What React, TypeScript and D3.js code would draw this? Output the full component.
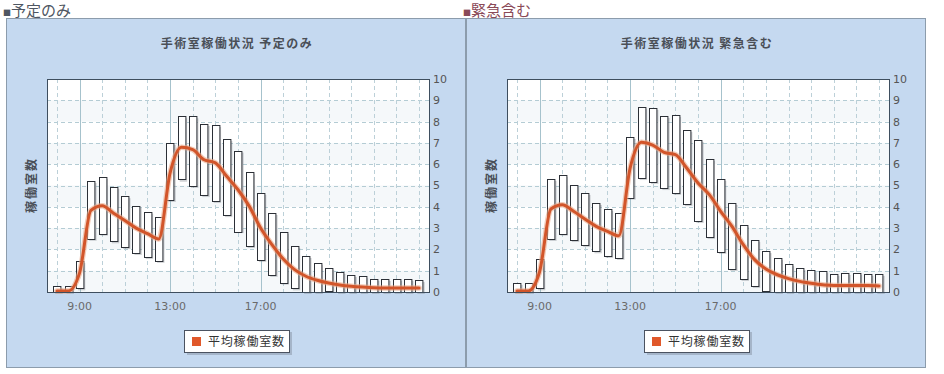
import React from "react";
import * as d3 from "d3";

// half-hour slots, 8:00 .. 24:00
const slots = [8, 8.5, 9, 9.5, 10, 10.5, 11, 11.5, 12, 12.5, 13, 13.5, 14, 14.5, 15, 15.5, 16, 16.5,
  17, 17.5, 18, 18.5, 19, 19.5, 20, 20.5, 21, 21.5, 22, 22.5, 23, 23.5, 24];

const planHigh = [0.27, 0.27, 1.46, 5.21, 5.4, 4.93, 4.5, 4.04, 3.76, 3.54, 7.0, 8.25, 8.25, 7.89, 7.84, 7.18, 6.64,
  5.62, 4.65, 3.71, 2.82, 2.16, 1.69, 1.36, 1.13, 0.94, 0.8, 0.74, 0.61, 0.61, 0.61, 0.61, 0.56];
const planLow = [0, 0, 0.17, 2.5, 2.74, 2.38, 2.11, 1.83, 1.64, 1.46, 4.32, 5.27, 4.98, 4.55, 4.27, 3.61, 2.86,
  2.16, 1.5, 0.8, 0.44, 0.17, 0, 0, 0.06, 0, 0, 0, 0, 0, 0, 0, 0];
const planAvg = [0.05, 0.05, 0.9, 3.83, 4.05, 3.7, 3.36, 3.0, 2.74, 2.49, 5.59, 6.79, 6.68, 6.21, 6.06, 5.43, 4.8,
  4.02, 3.0, 2.22, 1.55, 1.05, 0.74, 0.55, 0.42, 0.33, 0.27, 0.23, 0.2, 0.19, 0.19, 0.19, 0.19];

const emgHigh = [0.42, 0.42, 1.55, 5.31, 5.49, 5.02, 4.65, 4.18, 3.9, 3.71, 7.28, 8.69, 8.64, 8.26, 8.31, 7.6, 7.14,
  6.24, 5.31, 4.18, 3.15, 2.44, 1.92, 1.6, 1.31, 1.13, 1.03, 0.99, 0.85, 0.89, 0.89, 0.85, 0.85];
const emgLow = [0, 0, 0.17, 2.49, 2.74, 2.44, 2.21, 1.91, 1.69, 1.6, 4.43, 5.35, 5.16, 4.88, 4.65, 4.13, 3.33,
  2.58, 1.88, 1.08, 0.61, 0.28, 0.05, 0, 0, 0, 0, 0, 0, 0, 0, 0, 0];
const emgAvg = [0.05, 0.05, 0.95, 3.9, 4.1, 3.79, 3.43, 3.08, 2.85, 2.64, 5.82, 7.03, 6.9, 6.56, 6.45, 5.82, 5.12,
  4.57, 3.79, 3.08, 2.22, 1.52, 1.08, 0.81, 0.63, 0.5, 0.41, 0.34, 0.31, 0.3, 0.3, 0.3, 0.28];

const yTicks = [0, 1, 2, 3, 4, 5, 6, 7, 8, 9, 10];
const xTickHours = [9, 13, 17];
const xTickLabels = ["9:00", "13:00", "17:00"];
const gridHours = [8, 9, 10, 11, 12, 13, 14, 15, 16, 17, 18, 19, 20, 21, 22, 23, 24];

const JP = "'Noto Sans CJK JP', 'Noto Sans', sans-serif";
const NUM = "'DejaVu Sans', Verdana, sans-serif";

type PanelProps = {
  px: number; header: string; headerColor: string; title: string;
  high: number[]; low: number[]; avg: number[];
};

const Panel = ({ px, header, headerColor, title, high, low, avg }: PanelProps) => {
  const left = px + 41, right = px + 423, top = 79, bottom = 292;
  const x = d3.scaleLinear().domain([7.56, 24.44]).range([left, right]);
  const y = d3.scaleLinear().domain([0, 10]).range([bottom, top]);
  const bw = 7.4;
  const line = d3.line<number>()
    .x((d, i) => x(slots[i]))
    .y(d => y(d))
    .curve(d3.curveMonotoneX);
  const cx = px + 231;

  return (
    <g>
      <text x={px - 3} y={16} fontFamily={JP} fontSize={15} fill={headerColor}>
        <tspan fontSize={8}>■</tspan>{header}
      </text>
      <rect x={px + 0.5} y={18.5} width={459} height={349} fill="#c5d9f0" stroke="#8c9cac" />
      <text x={cx} y={48} textAnchor="middle" fontFamily={JP} fontSize={12} fontWeight="bold"
        fill="#4a4f57" letterSpacing={1.5}>{title}</text>

      {/* plot background + bands */}
      <rect x={left} y={top} width={right - left} height={bottom - top} fill="#ffffff" />
      {yTicks.slice(0, 10).filter(v => v % 2 === 0).map(v => (
        <rect key={"b" + v} x={left} y={y(v + 1)} width={right - left} height={y(v) - y(v + 1)} fill="#f5f8fa" />
      ))}
      {yTicks.slice(1, 10).map(v => (
        <line key={"h" + v} x1={left} x2={right} y1={Math.round(y(v)) + 0.5} y2={Math.round(y(v)) + 0.5}
          stroke="#b4ccd4" strokeDasharray="4,3" />
      ))}
      {gridHours.map(h => {
        const solid = xTickHours.includes(h);
        const xx = Math.round(x(h)) + 0.5;
        return <line key={"v" + h} x1={xx} x2={xx} y1={top} y2={bottom}
          stroke={solid ? "#a6c2cc" : "#bcd0d8"} strokeDasharray={solid ? undefined : "4,3"} />;
      })}

      {/* floating bars */}
      {slots.map((s, i) => (
        <g key={"bar" + i}>
          <rect x={x(s) - bw / 2 + 2} y={y(high[i]) + 2} width={bw} height={Math.max(y(low[i]) - y(high[i]), 2)}
            fill="#7a8088" opacity={0.35} />
          <rect x={Math.round(x(s) - bw / 2) + 0.5} y={Math.round(y(high[i])) + 0.5} width={bw}
            height={Math.max(Math.round(y(low[i]) - y(high[i])), 2)} fill="#ffffff" stroke="#2b2f36" strokeWidth={1} />
        </g>
      ))}

      {/* average line */}
      <path d={line(avg) || ""} fill="none" stroke="#eaa888" strokeWidth={5.5} opacity={0.6}
        strokeLinejoin="round" strokeLinecap="round" />
      <path d={line(avg) || ""} fill="none" stroke="#d2552a" strokeWidth={3}
        strokeLinejoin="round" strokeLinecap="round" />

      <rect x={left + 0.5} y={top + 0.5} width={right - left} height={bottom - top} fill="none" stroke="#3e4e5e" />

      {yTicks.map(v => (
        <text key={"yt" + v} x={right + 4} y={y(v)} dy="0.36em" fontFamily={NUM} fontSize={11} fill="#555">{v}</text>
      ))}
      {xTickHours.map((h, i) => (
        <text key={"xt" + h} x={x(h)} y={306} dy="0.36em" textAnchor="middle" fontFamily={NUM} fontSize={11}
          fill="#6a6a6a">{xTickLabels[i]}</text>
      ))}
      <text transform={`translate(${px + 26},185) rotate(-90)`} dy="0.36em" textAnchor="middle" fontFamily={JP}
        fontSize={12} fontWeight="bold" fill="#4a4f57" letterSpacing={2}>稼働室数</text>

      {/* legend */}
      <rect x={cx - 50} y={332} width={105} height={23} fill="#6a7480" opacity={0.35} />
      <rect x={cx - 52.5} y={330.5} width={105} height={22} fill="#ffffff" stroke="#4a5260" />
      <rect x={cx - 45} y={337} width={9} height={9} fill="#e0582a" />
      <text x={cx - 29} y={342} dy="0.36em" fontFamily={JP} fontSize={12} fill="#333" letterSpacing={0.8}>平均稼働室数</text>
    </g>
  );
};

export default function App() {
  return (
    <svg width={944} height={374} style={{ position: "absolute", left: 0, top: 0, background: "#fff" }}>
      <Panel px={6} header="予定のみ" headerColor="#4e5662" title="手術室稼働状況 予定のみ"
        high={planHigh} low={planLow} avg={planAvg} />
      <Panel px={466} header="緊急含む" headerColor="#8a4a58" title="手術室稼働状況 緊急含む"
        high={emgHigh} low={emgLow} avg={emgAvg} />
    </svg>
  );
}
